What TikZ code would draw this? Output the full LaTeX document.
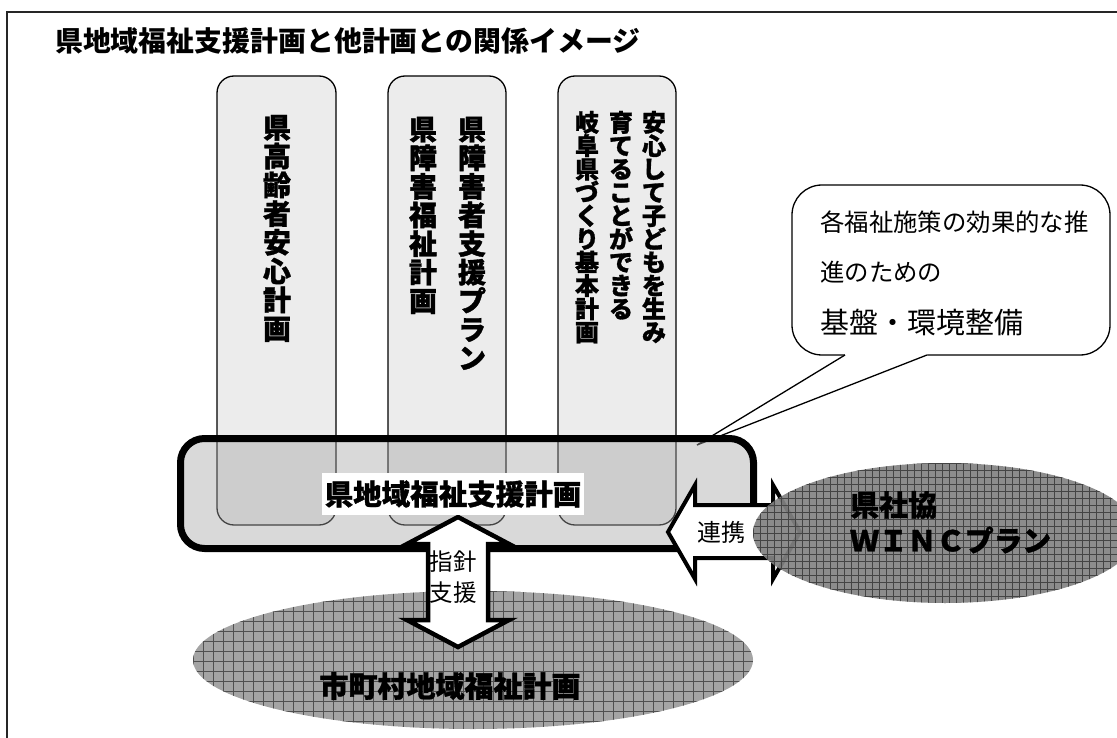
\documentclass[tikz,border=0pt]{standalone}
\usepackage{fontspec}
\usetikzlibrary{shapes.geometric}
\newfontfamily\jp{Noto Sans CJK JP}
\newfontfamily\jpheavy{Noto Sans CJK JP}[BoldFeatures={FakeBold=1.2}]
\definecolor{colfill}{HTML}{ECECEC}
\definecolor{boxfill}{HTML}{A4A4A4}
\definecolor{muniFill}{HTML}{A4A4A4}
\definecolor{muniGrid}{HTML}{505050}
\definecolor{wincFill}{HTML}{828282}
\definecolor{wincGrid}{HTML}{444444}
\newlength\vstep
\makeatletter
\def\vstk@loop#1{\ifx\relax#1\else\kern\vstep\hbox to 1em{\hss\smash{#1}\hss}\expandafter\vstk@loop\fi}
\newcommand\vstk[2]{\vstep=#1\relax\vbox{\offinterlineskip\vstk@loop#2\relax}}
\makeatother
\begin{document}
\begin{tikzpicture}[x=1pt,y=-1pt,
  colbox/.style={draw=black, line width=1.3pt, fill=colfill, rounded corners=17pt, inner sep=0pt, outer sep=0pt, anchor=north west, minimum height=449pt},
  vtxt/.style={anchor=north, inner sep=0pt},
  bigbox/.style={draw=black, line width=7pt, fill=boxfill, fill opacity=0.42, draw opacity=1, rounded corners=24pt, inner sep=0pt, minimum width=573pt, minimum height=110pt},
  fatarrow/.style={draw=black, line width=4.5pt, fill=white, line join=miter, miter limit=10},
  jpb/.style={inner sep=0pt, font=\fontsize{#1}{#1}\selectfont\jp\bfseries},
  jph/.style={inner sep=0pt, font=\fontsize{#1}{#1}\selectfont\jpheavy\bfseries},
  jpr/.style={inner sep=0pt, font=\fontsize{#1}{#1}\selectfont\jp},
  thinline/.style={draw=black, line width=1.3pt}
]
\useasboundingbox (0,0) rectangle (1117,738);
% frame
\draw[line width=1.3pt, black!85] (7,738) -- (7,12) -- (1117,12);
% title
\node[jpb=27.9, anchor=west] (title) at (55,41) {県地域福祉支援計画と他計画との関係イメージ};
% columns
\node[colbox, minimum width=119pt] (c1) at (217,76) {};
\node[colbox, minimum width=118pt] (c2) at (388,76) {};
\node[colbox, minimum width=118pt] (c3) at (558,76) {};
\node[vtxt, jph=28] (t1) at (277,109) {\vstk{28.75pt}{県高齢者安心計画}};
\node[vtxt, jph=28] (t2a) at (472,111) {\vstk{28.6pt}{県障害者支援プラン}};
\node[vtxt, jph=28] (t2b) at (423,111) {\vstk{28.6pt}{県障害福祉計画}};
\node[vtxt, jph=24] (t3a) at (654,108) {\vstk{23.3pt}{安心して子どもを生み}};
\node[vtxt, jph=24] (t3b) at (621,108) {\vstk{23.3pt}{育てることができる}};
\node[vtxt, jph=24] (t3c) at (587,108) {\vstk{23.3pt}{岐阜県づくり基本計画}};
% callout
\node[thinline, fill=white, rounded corners=30pt, inner sep=0pt, minimum width=318pt, minimum height=170pt] (note) at (951,270) {};
\coordinate (tip) at (697,445);
\fill[white] (845,352) -- (845,356.5) -- (tip) -- (927,356.5) -- (927,352) -- cycle;
\draw[thinline, line join=miter] (845,355) -- (tip) -- (927,355);
\node[jpr=24.4, anchor=west] (n1) at (820,222) {各福祉施策の効果的な推};
\node[jpr=24.4, anchor=west] (n2) at (820,272) {進のための};
\node[jpr=29, anchor=west] (n3) at (820,322) {基盤・環境整備};
% big box
\node[bigbox] (plan) at (467,493.5) {};
% municipal ellipse
\node[ellipse, inner sep=0pt, minimum width=560pt, minimum height=138pt, fill=muniFill, path picture={
  \foreach \g in {0,10,...,570} {\draw[muniGrid, line width=0.8pt] ([xshift=\g pt]path picture bounding box.north west) -- ([xshift=\g pt]path picture bounding box.south west);}
  \foreach \g in {0,10,...,140} {\draw[muniGrid, line width=0.8pt] ([yshift=-\g pt]path picture bounding box.north west) -- ([yshift=-\g pt]path picture bounding box.north east);}
}] (muni) at (473,660) {};
% vertical double arrow
\draw[fatarrow] (458,517) -- (509,544) -- (488,544) -- (488,620) -- (509,620) -- (458,647) -- (407,620) -- (428,620) -- (428,544) -- (407,544) -- cycle;
\node[fill=white, minimum width=262pt, minimum height=42pt, jph=28.5] (planlbl) at (453,494) {県地域福祉支援計画};
\node[jpr=23.5] (s1) at (453,562) {指針};
\node[jpr=23.5] (s2) at (453,593) {支援};
% horizontal double arrow
\draw[fatarrow, line width=4pt] (668,532) -- (695,485) -- (695,505) -- (773,505) -- (773,485) -- (800,532) -- (773,579) -- (773,558) -- (695,558) -- (695,579) -- cycle;
\node[jpr=24] (renkei) at (721,532) {連携};
% WINC ellipse
\node[ellipse, inner sep=0pt, minimum width=384pt, minimum height=140pt, fill=wincFill, fill opacity=0.92, path picture={
  \foreach \g in {0,7,...,392} {\draw[wincGrid, line width=0.7pt] ([xshift=\g pt]path picture bounding box.north west) -- ([xshift=\g pt]path picture bounding box.south west);}
  \foreach \g in {0,7,...,147} {\draw[wincGrid, line width=0.7pt] ([yshift=-\g pt]path picture bounding box.north west) -- ([yshift=-\g pt]path picture bounding box.north east);}
}] (winc) at (945,533) {};
\node[jph=29, anchor=west] (w1) at (850,505) {県社協};
\node[jph=28.7, anchor=west] (w2) at (850,540) {ＷＩＮＣプラン};
\node[jph=29] (munitxt) at (450,686) {市町村地域福祉計画};
\end{tikzpicture}
\end{document}
